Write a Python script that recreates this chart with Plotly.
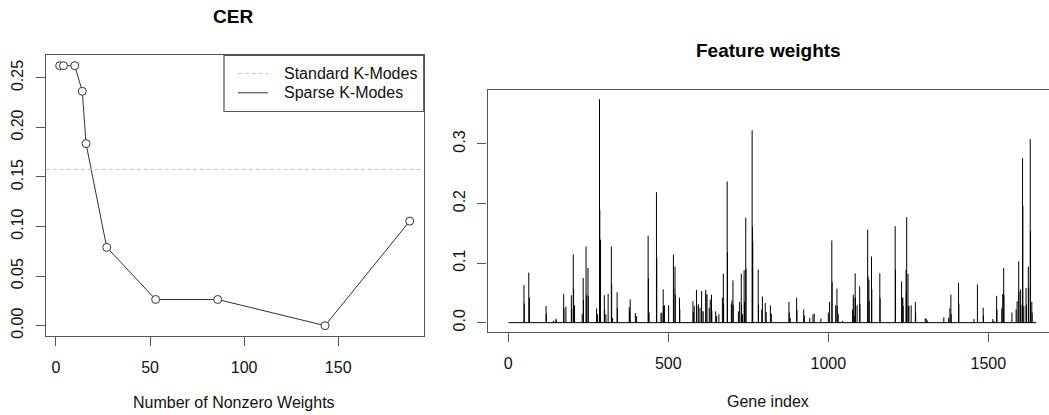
import plotly.graph_objects as go

# ---------------- data ----------------
n_nonzero = [2, 4, 10, 14, 16, 27, 53, 86, 143, 188]
cer_sparse = [0.2623, 0.2623, 0.2623, 0.2365, 0.1837, 0.0790, 0.0264, 0.0264, 0.0, 0.1055]
cer_standard = 0.1576

n_genes = 1650
gene_index = [
    49, 50, 64, 66, 118, 119, 141, 149, 150, 173, 174, 180, 197, 198, 203, 204, 207,
    231, 234, 235, 243, 244, 249, 250, 276, 279, 285, 286, 287, 288, 300, 301, 305, 312,
    322, 323, 326, 340, 341, 378, 379, 381, 397, 401, 437, 438, 440, 463, 464,
    477, 480, 484, 485, 488, 501, 516, 517, 521, 522, 535, 536,
    577, 578, 581, 588, 589, 594, 599, 604, 605, 609, 617, 618, 621, 628, 631, 635, 636,
    648, 651, 658, 669, 672, 673, 684, 685, 697, 699, 702, 703,
    719, 723, 728, 729, 732, 737, 738, 742, 743, 762, 763, 764, 781, 782,
    792, 794, 803, 806, 819, 822, 877, 878, 881, 901, 902,
    923, 925, 942, 952, 956, 977, 1000, 1004, 1011, 1012, 1023, 1027, 1028, 1031, 1045,
    1076, 1078, 1080, 1081, 1084, 1085, 1090, 1098, 1099,
    1123, 1124, 1127, 1128, 1135, 1136, 1161, 1162, 1209, 1210,
    1229, 1231, 1233, 1234, 1243, 1244, 1245, 1249, 1250, 1252, 1259, 1272, 1273,
    1303, 1306, 1309, 1361, 1376, 1380, 1383, 1384, 1407, 1408,
    1455, 1466, 1484, 1485, 1514, 1518, 1526, 1527,
    1542, 1545, 1548, 1549, 1574, 1587, 1590, 1595, 1596, 1601, 1602,
    1607, 1608, 1611, 1618, 1619, 1625, 1626, 1631, 1632, 1636, 1637,
]
gene_weight = [
    0.063, 0.032, 0.084, 0.042, 0.028, 0.015, 0.003, 0.007, 0.004, 0.048, 0.024, 0.027, 0.046, 0.022, 0.115, 0.057, 0.029,
    0.015, 0.075, 0.038, 0.128, 0.046, 0.092, 0.045, 0.024, 0.014, 0.375, 0.189, 0.139, 0.139, 0.046, 0.022, 0.014, 0.048,
    0.128, 0.064, 0.008, 0.051, 0.025, 0.026, 0.019, 0.039, 0.016, 0.011, 0.146, 0.074, 0.017, 0.219, 0.109,
    0.016, 0.017, 0.056, 0.028, 0.029, 0.029, 0.114, 0.057, 0.094, 0.047, 0.042, 0.022,
    0.036, 0.018, 0.028, 0.055, 0.028, 0.031, 0.025, 0.053, 0.019, 0.019, 0.055, 0.048, 0.047, 0.025, 0.039, 0.047, 0.020,
    0.019, 0.011, 0.014, 0.042, 0.082, 0.032, 0.237, 0.118, 0.031, 0.037, 0.071, 0.030,
    0.019, 0.035, 0.082, 0.030, 0.014, 0.088, 0.035, 0.176, 0.090, 0.323, 0.161, 0.136, 0.089, 0.030,
    0.022, 0.044, 0.033, 0.018, 0.029, 0.015, 0.035, 0.017, 0.008, 0.042, 0.021,
    0.022, 0.012, 0.008, 0.014, 0.015, 0.007, 0.017, 0.035, 0.138, 0.068, 0.029, 0.057, 0.028, 0.015, 0.003,
    0.022, 0.047, 0.042, 0.011, 0.083, 0.042, 0.029, 0.061, 0.031,
    0.156, 0.078, 0.072, 0.036, 0.111, 0.056, 0.083, 0.041, 0.162, 0.089,
    0.069, 0.042, 0.042, 0.028, 0.089, 0.050, 0.177, 0.082, 0.028, 0.028, 0.029, 0.035, 0.017,
    0.007, 0.007, 0.004, 0.009, 0.008, 0.024, 0.047, 0.014, 0.067, 0.032,
    0.006, 0.064, 0.025, 0.012, 0.006, 0.003, 0.045, 0.022,
    0.024, 0.048, 0.092, 0.046, 0.017, 0.022, 0.036, 0.103, 0.052, 0.056, 0.030,
    0.276, 0.196, 0.028, 0.058, 0.030, 0.094, 0.059, 0.308, 0.154, 0.035, 0.017,
]

x_ticks_cer = [0, 50, 100, 150]
y_ticks_cer = [0.00, 0.05, 0.10, 0.15, 0.20, 0.25]
y_tick_text_cer = ["0.00", "0.05", "0.10", "0.15", "0.20", "0.25"]
x_ticks_w = [0, 500, 1000, 1500]
y_ticks_w = [0.0, 0.1, 0.2, 0.3]
y_tick_text_w = ["0.0", "0.1", "0.2", "0.3"]

# ---------------- layout helpers ----------------
W, H = 1049, 415
def px(xp):
    return xp / W
def py(yp):
    return 1 - yp / H

FONT = "Liberation Sans, Arial, sans-serif"
AX = "#555555"
TXT = "#111111"

fig = go.Figure()

# standard K-modes reference line (dashed)
fig.add_shape(type="line", xref="x domain", yref="y", x0=0, x1=1,
              y0=cer_standard, y1=cer_standard,
              line=dict(color="#c4c4c4", width=1, dash="4px,3px"))

fig.add_trace(go.Scatter(
    x=n_nonzero, y=cer_sparse, mode="lines+markers", xaxis="x", yaxis="y",
    line=dict(color="#333333", width=1),
    marker=dict(symbol="circle", size=8, color="white", line=dict(color="#333333", width=1)),
    showlegend=False, hoverinfo="skip"))

# spikes (type = "h")
sx, sy = [], []
for g, w in zip(gene_index, gene_weight):
    sx += [g, g, None]
    sy += [0, w, None]
fig.add_trace(go.Scatter(x=[1, n_genes], y=[0, 0], mode="lines", xaxis="x2", yaxis="y2",
                         line=dict(color="black", width=1), showlegend=False, hoverinfo="skip"))
fig.add_trace(go.Scatter(x=sx, y=sy, mode="lines", xaxis="x2", yaxis="y2",
                         line=dict(color="black", width=1), showlegend=False, hoverinfo="skip"))

axis_common = dict(showgrid=False, zeroline=False, showline=True, linecolor=AX, linewidth=1.2,
                   ticks="outside", ticklen=9, tickcolor=AX, tickwidth=1.2,
                   tickfont=dict(family=FONT, size=16, color=TXT))

fig.update_layout(
    width=W, height=H, margin=dict(l=0, r=0, t=0, b=0),
    paper_bgcolor="white", plot_bgcolor="white", showlegend=False,
    xaxis=dict(domain=[px(45.7), px(423.7)], range=[-5.44, 195.44], anchor="y",
               tickvals=x_ticks_cer, ticktext=[str(v) for v in x_ticks_cer],
               mirror=True, ticklabelstandoff=8, **axis_common),
    yaxis=dict(domain=[py(338.5), py(55.7)], range=[-0.0105, 0.2728], anchor="x",
               tickvals=y_ticks_cer, ticktext=y_tick_text_cer, tickangle=-90,
               mirror=True, ticklabelstandoff=6, **axis_common),
    xaxis2=dict(domain=[px(487.5), 1.0], range=[-65, 1689.7], anchor="y2",
                tickvals=x_ticks_w, ticktext=[str(v) for v in x_ticks_w],
                mirror=True, ticklabelstandoff=8, **axis_common),
    yaxis2=dict(domain=[py(334), py(91)], range=[-0.015, 0.39], anchor="x2",
                tickvals=y_ticks_w, ticktext=y_tick_text_w, tickangle=-90,
                mirror=False, ticklabelstandoff=6, **axis_common),
)

def label(text, x, y, size=16, xanchor="center", color=TXT):
    fig.add_annotation(text=text, x=px(x), y=py(y), xref="paper", yref="paper",
                       xanchor=xanchor, yanchor="middle", showarrow=False,
                       font=dict(family=FONT, size=size, color=color))

# titles and axis labels
label("<b>CER</b>", 233, 17, size=19, color="black")
label("<b>Feature weights</b>", 768, 51, size=19, color="black")
label("Number of Nonzero Weights", 234, 405)
label("Gene index", 768, 404)

# legend box (top-right of CER panel)
fig.add_shape(type="rect", xref="paper", yref="paper", x0=px(224), x1=px(423.7),
              y0=py(112.3), y1=py(55.7), line=dict(color=AX, width=1.2), fillcolor="white", layer="above")
fig.add_shape(type="line", xref="paper", yref="paper", x0=px(238), x1=px(268), y0=py(74), y1=py(74),
              line=dict(color="#c4c4c4", width=1, dash="4px,3px"))
fig.add_shape(type="line", xref="paper", yref="paper", x0=px(238), x1=px(268), y0=py(93.5), y1=py(93.5),
              line=dict(color="#333333", width=1))
label("Standard K-Modes", 281.5, 74, xanchor="left")
label("Sparse K-Modes", 281.5, 93.5, xanchor="left")

fig.write_html("out.html")
